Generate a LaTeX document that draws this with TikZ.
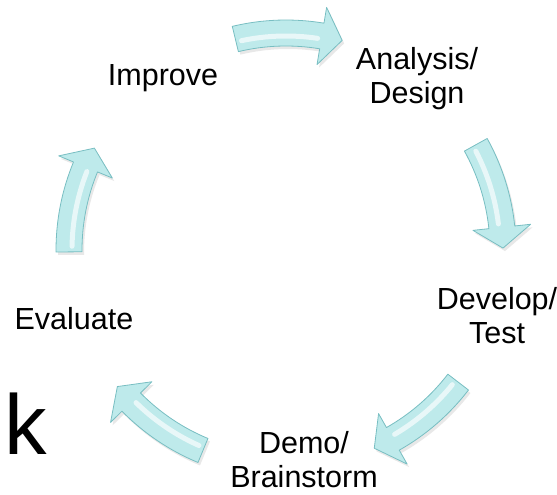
\documentclass[tikz,border=0pt]{standalone}
\usepackage{fontspec}
\setmainfont{Liberation Sans}
\usetikzlibrary{shadows}

\definecolor{arrowfill}{RGB}{190,234,235}
\definecolor{arrowedge}{RGB}{120,190,194}

\begin{document}
\begin{tikzpicture}[x=1pt,y=1pt,
    stage/.style={align=center, inner sep=0pt, font=\fontsize{30.5}{34}\selectfont},
    arrowbody/.style={fill=arrowfill, draw=arrowedge, line width=0.8pt, line join=round,
        drop shadow={opacity=0.18, shadow xshift=2pt, shadow yshift=-3pt}},
    shine/.style={white, opacity=0.65, line width=5pt, line cap=round}]
    \useasboundingbox (0,0) rectangle (557,495);

    % stages of the cycle
    \node[stage] (improve)  at (163,417) {Improve};
    \node[stage] (analysis) at (417,416) {Analysis/\\Design};
    \node[stage] (develop)  at (497,179) {Develop/\\Test};
    \node[stage] (demo)     at (304,35)  {Demo/\\Brainstorm};
    \node[stage] (evaluate) at (74,176)  {Evaluate};
    \node[anchor=base west, inner sep=0pt, font=\fontsize{85}{90}\selectfont] (cut) at (4,40) {k};

    % curved arrows between the stages
    \begin{scope}[shift={(286,245)}]
        \foreach \mid in {90,15.5,-51,-126,167} {
            \pgfmathsetmacro\tl{\mid+13.5}
            \pgfmathsetmacro\tp{\mid-15}
            \pgfmathsetmacro\hb{\mid-9.5}
            \pgfmathsetmacro\sa{\mid+12}
            \pgfmathsetmacro\sb{\mid-8.5}
            \path[arrowbody] (\tl:230) arc[start angle=\tl, end angle=\hb, radius=230]
                -- (\hb:246) -- (\tp:217) -- (\hb:188) -- (\hb:204)
                arc[start angle=\hb, end angle=\tl, radius=204] -- cycle;
            \draw[shine] (\sa:214) arc[start angle=\sa, end angle=\sb, radius=214];
        }
    \end{scope}
\end{tikzpicture}
\end{document}
